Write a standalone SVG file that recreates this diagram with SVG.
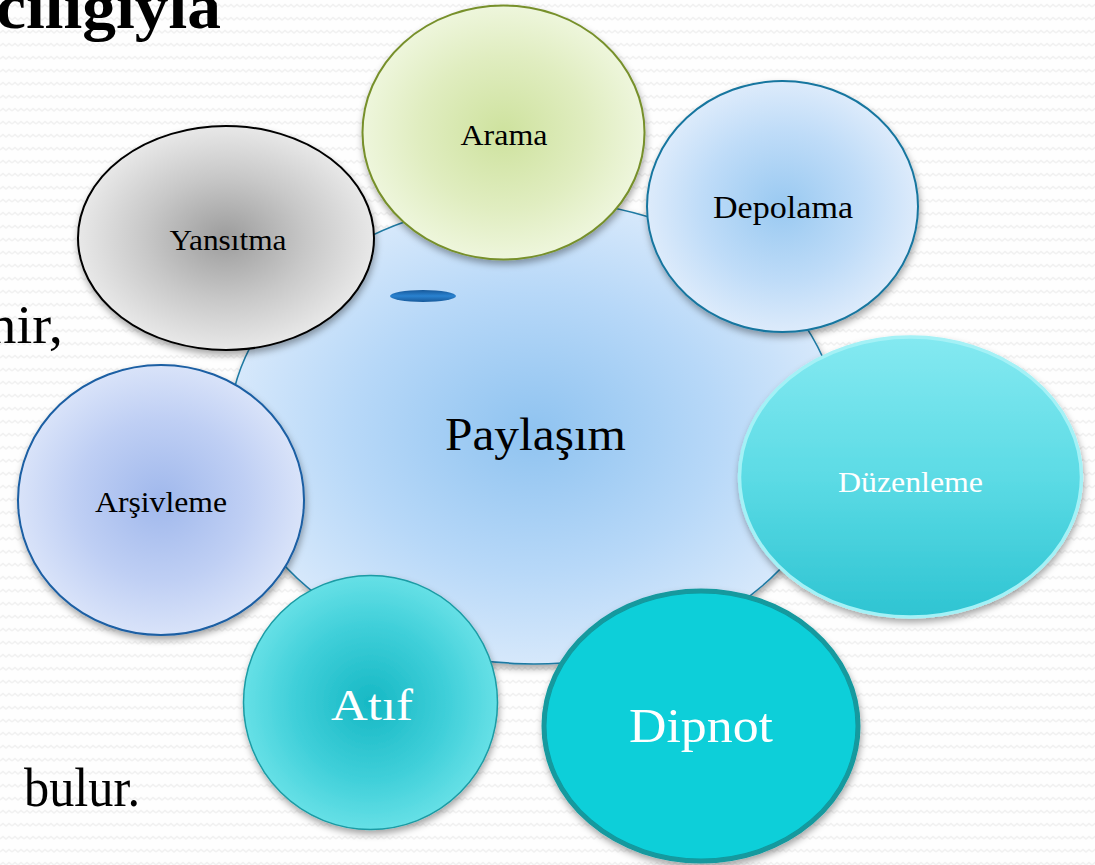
<svg xmlns="http://www.w3.org/2000/svg" width="1095" height="865" viewBox="0 0 1095 865">
<style>
.lbl{font-family:"Liberation Serif","Times New Roman",serif;text-anchor:middle}
.dark{fill:#000}
.light{fill:#fff}
.side{font-family:"Liberation Serif","Times New Roman",serif;fill:#000;font-size:55px}
</style>
<defs>
<pattern id="bgp" width="12" height="13" patternUnits="userSpaceOnUse">
<rect width="12" height="13" fill="#fefefe"/>
<path d="M0 7 L3 4.5 L6 7 L9 4.5 L12 7" fill="none" stroke="#f1f1f1" stroke-width="1.5"/>
</pattern>
<filter id="sh" x="-20%" y="-20%" width="140%" height="140%">
<feDropShadow dx="1" dy="4" stdDeviation="3.5" flood-color="#000" flood-opacity="0.35"/>
</filter>
<radialGradient id="gCenter" cx="0.5" cy="0.5" r="0.5">
<stop offset="0" stop-color="#8fc3f0"/>
<stop offset="0.6" stop-color="#b7d8f8"/>
<stop offset="1" stop-color="#d6e8fb"/>
</radialGradient>
<radialGradient id="gGray" cx="0.5" cy="0.5" r="0.5">
<stop offset="0" stop-color="#9c9c9c"/>
<stop offset="0.55" stop-color="#c8c8c8"/>
<stop offset="1" stop-color="#e8e8e8"/>
</radialGradient>
<radialGradient id="gGreen" cx="0.5" cy="0.5" r="0.5">
<stop offset="0" stop-color="#cee29e"/>
<stop offset="0.6" stop-color="#e0edc0"/>
<stop offset="1" stop-color="#eef6dc"/>
</radialGradient>
<radialGradient id="gBlue" cx="0.5" cy="0.5" r="0.5">
<stop offset="0" stop-color="#99c9f1"/>
<stop offset="0.6" stop-color="#bfdcf8"/>
<stop offset="1" stop-color="#ddebfb"/>
</radialGradient>
<radialGradient id="gLav" cx="0.5" cy="0.5" r="0.5">
<stop offset="0" stop-color="#a0b8ec"/>
<stop offset="0.6" stop-color="#bfcff4"/>
<stop offset="1" stop-color="#d9e3f9"/>
</radialGradient>
<radialGradient id="gTeal" cx="0.5" cy="0.5" r="0.5">
<stop offset="0" stop-color="#16b8c4"/>
<stop offset="0.6" stop-color="#3fcfd9"/>
<stop offset="1" stop-color="#66e0e6"/>
</radialGradient>
<linearGradient id="gCyan" x1="0" y1="0" x2="0" y2="1">
<stop offset="0" stop-color="#84e9f1"/>
<stop offset="0.5" stop-color="#5cdbe5"/>
<stop offset="1" stop-color="#2ec4d2"/>
</linearGradient>
<linearGradient id="gPill" x1="0" y1="0" x2="0" y2="1">
<stop offset="0" stop-color="#17599a"/>
<stop offset="0.5" stop-color="#2a82d0"/>
<stop offset="1" stop-color="#17599a"/>
</linearGradient>
</defs>

<rect width="1095" height="865" fill="url(#bgp)"/>

<g id="side-text">
<text class="side" x="-4" y="28" font-weight="bold" textLength="225" lengthAdjust="spacingAndGlyphs" style="font-size:64px">cılığıyla</text>
<text class="side" x="-12" y="343" textLength="75" lengthAdjust="spacingAndGlyphs">nir,</text>
<text class="side" x="-11" y="575">.</text>
<text class="side" x="24" y="806" textLength="116" lengthAdjust="spacingAndGlyphs">bulur.</text>
</g>

<g id="connectors"></g>

<g id="node-paylasim">
<ellipse cx="534" cy="432" rx="305" ry="232" fill="url(#gCenter)" stroke="#1f7aa3" stroke-width="1.5" filter="url(#sh)"/>
<ellipse cx="423" cy="296" rx="33" ry="6" fill="url(#gPill)"/>
<text class="lbl dark" x="535.5" y="450" font-size="46" textLength="181" lengthAdjust="spacingAndGlyphs">Paylaşım</text>
</g>

<g id="node-yansitma">
<ellipse cx="226" cy="238" rx="148" ry="112" fill="url(#gGray)" stroke="#000" stroke-width="2" filter="url(#sh)"/>
<text class="lbl dark" x="228" y="250" font-size="30" textLength="117" lengthAdjust="spacingAndGlyphs">Yansıtma</text>
</g>

<g id="node-arama">
<ellipse cx="503.5" cy="132.5" rx="141" ry="127" fill="url(#gGreen)" stroke="#77902c" stroke-width="2" filter="url(#sh)"/>
<text class="lbl dark" x="504" y="145" font-size="30" textLength="87" lengthAdjust="spacingAndGlyphs">Arama</text>
</g>

<g id="node-depolama">
<ellipse cx="782.5" cy="206.5" rx="135.5" ry="125.5" fill="url(#gBlue)" stroke="#18769f" stroke-width="2" filter="url(#sh)"/>
<text class="lbl dark" x="783" y="218" font-size="32" textLength="140" lengthAdjust="spacingAndGlyphs">Depolama</text>
</g>

<g id="node-duzenleme">
<ellipse cx="910.5" cy="477" rx="171" ry="140" fill="url(#gCyan)" stroke="#a4f1f6" stroke-width="3.5" filter="url(#sh)"/>
<text class="lbl light" x="910.5" y="492" font-size="30" textLength="145" lengthAdjust="spacingAndGlyphs">Düzenleme</text>
</g>

<g id="node-arsivleme">
<ellipse cx="161" cy="500" rx="143" ry="135" fill="url(#gLav)" stroke="#1a5ea3" stroke-width="2" filter="url(#sh)"/>
<text class="lbl dark" x="161" y="512" font-size="30" textLength="132" lengthAdjust="spacingAndGlyphs">Arşivleme</text>
</g>

<g id="node-atif">
<ellipse cx="370.5" cy="702.5" rx="127" ry="127" fill="url(#gTeal)" stroke="#1a9ba4" stroke-width="1.5" filter="url(#sh)"/>
<text class="lbl light" x="372" y="720" font-size="44" textLength="82" lengthAdjust="spacingAndGlyphs">Atıf</text>
</g>

<g id="node-dipnot">
<ellipse cx="701" cy="726" rx="157" ry="135" fill="#0bcfd9" stroke="#12999e" stroke-width="5" filter="url(#sh)"/>
<text class="lbl light" x="701" y="742" font-size="48" textLength="144" lengthAdjust="spacingAndGlyphs">Dipnot</text>
</g>
</svg>
